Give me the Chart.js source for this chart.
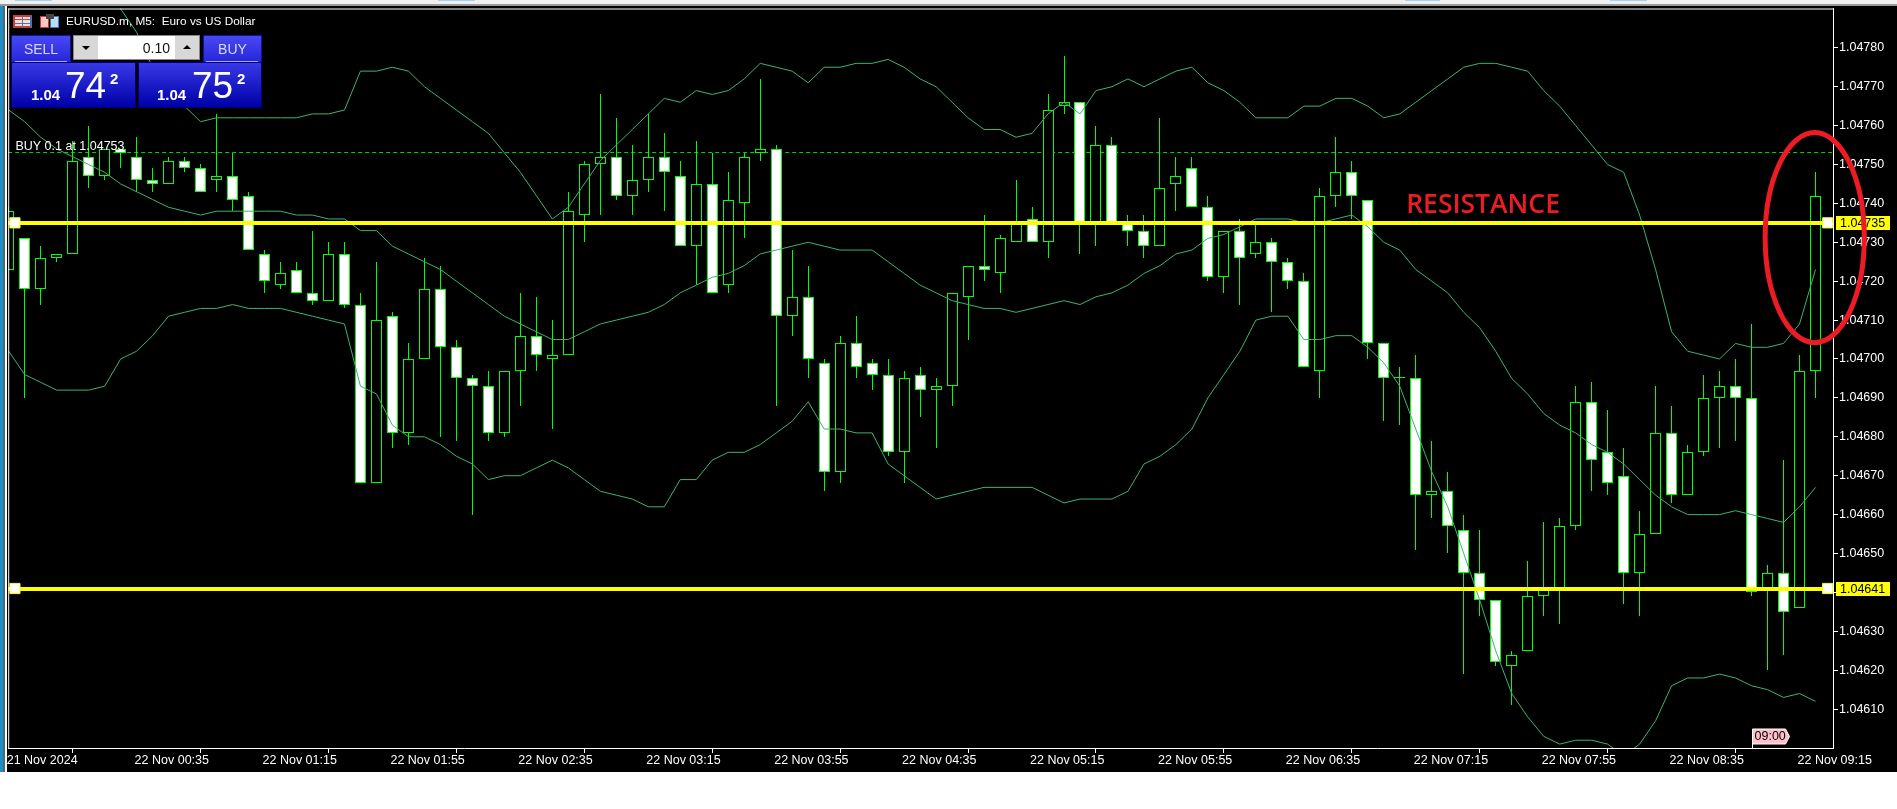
<!DOCTYPE html>
<html><head><meta charset="utf-8"><title>EURUSD.m M5</title>
<script src="https://cdn.jsdelivr.net/npm/chart.js@4"></script>
<style>
html,body{margin:0;padding:0;background:#fff;width:1897px;height:809px;overflow:hidden}
#c{position:absolute;left:0;top:0;display:block;background:#000}
.o{position:absolute;box-sizing:border-box}
.t{position:absolute;white-space:pre;font-family:"Liberation Sans",sans-serif;line-height:1}
.pb{background:linear-gradient(#4848f4,#2626d8);border:1px solid #1010a0}
.pp{background:linear-gradient(#3838e6,#0000a8);border:1px solid #00007a}
</style></head><body>
<canvas id="c" width="1897" height="772"></canvas>
<div class="o" style="left:0;top:0;width:1897px;height:4px;background:#f0f0f0"></div>
<div class="o" style="left:0;top:4px;width:1897px;height:2px;background:#9a9a9a"></div>
<div class="o" style="left:15px;top:0;width:37px;height:1px;background:#a5d0f0"></div>
<div class="o" style="left:438px;top:0;width:37px;height:1px;background:#a5d0f0"></div>
<div class="o" style="left:1405px;top:0;width:35px;height:1px;background:#a5d0f0"></div>
<div class="o" style="left:1610px;top:0;width:37px;height:1px;background:#a5d0f0"></div>
<div class="o" style="left:0;top:6px;width:3px;height:766px;background:#1b8fc9"></div>
<div class="o" style="left:3px;top:6px;width:2px;height:766px;background:#566"></div>
<div class="o" style="left:5px;top:6px;width:2px;height:766px;background:#fff"></div>

<div class="o" style="left:13px;top:15px;width:19px;height:13px;background:#ffd8d0;border:2px solid #c04040;border-right-color:#3080c0"></div>
<div class="o" style="left:15px;top:19px;width:15px;height:1px;background:#d04040"></div>
<div class="o" style="left:15px;top:23px;width:15px;height:1px;background:#3080c0"></div>
<div class="o" style="left:22px;top:17px;width:1px;height:10px;background:#3080c0"></div>
<div class="o" style="left:40px;top:16px;width:9px;height:12px;background:#ffc8c0;border:1px solid #c04040"></div>
<div class="o" style="left:50px;top:16px;width:9px;height:12px;background:#bcdcf4;border:1px solid #3080c0"></div>
<div class="o" style="left:46px;top:14px;width:8px;height:5px;background:#444"></div>
<div class="t" style="left:66px;top:16px;font-size:11.8px;color:#fff">EURUSD.m, M5:  Euro vs US Dollar</div>

<div class="o pb" style="left:11px;top:35px;width:60px;height:28px"></div>
<div class="o" style="left:15px;top:61px;width:52px;height:1px;background:#a8a8f0"></div>
<div class="t" style="left:11px;top:42px;width:60px;text-align:center;font-size:14px;color:#d8d8ff">SELL</div>
<div class="o" style="left:73px;top:35px;width:127px;height:25px;background:#fff;border:1px solid #888"></div>
<div class="o" style="left:74px;top:36px;width:24px;height:23px;background:#d8d8d8"></div>
<div class="o" style="left:175px;top:36px;width:24px;height:23px;background:#d8d8d8"></div>
<div class="o" style="left:82px;top:46px;width:0;height:0;border-left:4px solid transparent;border-right:4px solid transparent;border-top:4px solid #000"></div>
<div class="o" style="left:183px;top:45px;width:0;height:0;border-left:4px solid transparent;border-right:4px solid transparent;border-bottom:4px solid #000"></div>
<div class="t" style="left:98px;top:41px;width:72px;text-align:right;font-size:14px;color:#111">0.10</div>
<div class="o pb" style="left:203px;top:35px;width:59px;height:28px"></div>
<div class="o" style="left:206px;top:61px;width:52px;height:1px;background:#a8a8f0"></div>
<div class="t" style="left:203px;top:42px;width:59px;text-align:center;font-size:14px;color:#d8d8ff">BUY</div>
<div class="o pp" style="left:11px;top:62px;width:125px;height:46px"></div>
<div class="o pp" style="left:138px;top:62px;width:124px;height:46px"></div>
<div class="t" style="left:31px;top:87px;font-size:15px;font-weight:bold;color:#fff">1.04</div>
<div class="t" style="left:65px;top:67px;font-size:37px;color:#fff">74</div>
<div class="t" style="left:110px;top:71px;font-size:15px;font-weight:bold;color:#fff">2</div>
<div class="t" style="left:157px;top:87px;font-size:15px;font-weight:bold;color:#fff">1.04</div>
<div class="t" style="left:192px;top:67px;font-size:37px;color:#fff">75</div>
<div class="t" style="left:237px;top:71px;font-size:15px;font-weight:bold;color:#fff">2</div>

<script>
const opens=[1.04723,1.04731,1.04718,1.04726,1.04727,1.04752,1.04747,1.04754,1.04752,1.04746,1.04745,1.04751,1.04749,1.04746,1.04747,1.04742,1.04727,1.04719,1.04723,1.04717,1.04715,1.04727,1.04714,1.04668,1.04711,1.04681,1.04700,1.04718,1.04703,1.04695,
1.04693,1.04681,1.04697,1.04706,1.04700,1.04701,1.04737,1.04750,1.04752,1.04742,1.04746,1.04752,1.04747,1.04729,1.04745,1.04719,1.04740,1.04753,1.04754,1.04711,1.04716,1.04699,1.04671,1.04704,1.04699,1.04696,1.04676,1.04696,1.04692,1.04693,
1.04716,1.04724,1.04722,1.04730,1.04736,1.04730,1.04765,1.04766,1.04735,1.04755,1.04735,1.04733,1.04729,1.04745,1.04749,1.04739,1.04721,1.04733,1.04727,1.04730,1.04725,1.04720,1.04697,1.04742,1.04748,1.04741,1.04704,1.04695,1.04695,1.04665,
1.04666,1.04656,1.04645,1.04638,1.04621,1.04625,1.04639,1.04641,1.04657,1.04689,1.04676,1.04670,1.04645,1.04655,1.04681,1.04665,1.04676,1.04690,1.04693,1.04690,1.04641,1.04645,1.04636,1.04697];
const highs=[1.04739,1.04731,1.04729,1.04727,1.04756,1.04760,1.04754,1.04754,1.04757,1.04749,1.04752,1.04752,1.04750,1.04763,1.04753,1.04743,1.04728,1.04725,1.04725,1.04733,1.04730,1.04730,1.04717,1.04725,1.04712,1.04704,1.04726,1.04724,1.04705,1.04696,
1.04697,1.04697,1.04717,1.04716,1.04710,1.04743,1.04751,1.04768,1.04762,1.04755,1.04763,1.04758,1.04751,1.04756,1.04753,1.04748,1.04753,1.04772,1.04755,1.04728,1.04724,1.04700,1.04706,1.04711,1.04700,1.04700,1.04697,1.04698,1.04695,1.04717,
1.04724,1.04737,1.04732,1.04746,1.04739,1.04768,1.04778,1.04766,1.04760,1.04757,1.04737,1.04737,1.04762,1.04752,1.04752,1.04742,1.04733,1.04736,1.04735,1.04731,1.04726,1.04722,1.04744,1.04757,1.04751,1.04741,1.04704,1.04698,1.04701,1.04679,
1.04671,1.04660,1.04656,1.04638,1.04625,1.04648,1.04658,1.04659,1.04693,1.04694,1.04687,1.04677,1.04661,1.04693,1.04688,1.04678,1.04696,1.04697,1.04700,1.04709,1.04647,1.04674,1.04701,1.04748];
const lows=[1.04723,1.04690,1.04714,1.04725,1.04727,1.04744,1.04746,1.04749,1.04743,1.04743,1.04745,1.04748,1.04743,1.04743,1.04738,1.04728,1.04717,1.04718,1.04717,1.04714,1.04715,1.04713,1.04668,1.04668,1.04677,1.04678,1.04700,1.04680,1.04679,1.04660,
1.04679,1.04680,1.04688,1.04697,1.04682,1.04701,1.04730,1.04737,1.04741,1.04737,1.04743,1.04738,1.04729,1.04719,1.04717,1.04717,1.04731,1.04751,1.04688,1.04706,1.04695,1.04666,1.04668,1.04695,1.04692,1.04675,1.04668,1.04685,1.04677,1.04688,
1.04705,1.04720,1.04717,1.04730,1.04730,1.04726,1.04763,1.04727,1.04729,1.04735,1.04729,1.04726,1.04729,1.04738,1.04739,1.04720,1.04717,1.04714,1.04726,1.04712,1.04718,1.04698,1.04690,1.04739,1.04736,1.04700,1.04684,1.04683,1.04651,1.04659,
1.04650,1.04619,1.04634,1.04621,1.04611,1.04625,1.04634,1.04632,1.04656,1.04666,1.04665,1.04637,1.04634,1.04655,1.04663,1.04665,1.04675,1.04677,1.04679,1.04639,1.04620,1.04624,1.04636,1.04690];
const closes=[1.04738,1.04718,1.04726,1.04727,1.04751,1.04747,1.04754,1.04753,1.04746,1.04745,1.04751,1.04749,1.04743,1.04747,1.04741,1.04728,1.04720,1.04722,1.04717,1.04715,1.04727,1.04714,1.04668,1.04710,1.04681,1.04700,1.04718,1.04703,1.04695,1.04693,
1.04681,1.04697,1.04706,1.04701,1.04701,1.04738,1.04750,1.04752,1.04742,1.04746,1.04752,1.04748,1.04729,1.04745,1.04717,1.04741,1.04752,1.04754,1.04711,1.04716,1.04700,1.04671,1.04704,1.04698,1.04696,1.04676,1.04695,1.04692,1.04693,1.04717,
1.04724,1.04723,1.04731,1.04735,1.04730,1.04764,1.04766,1.04735,1.04755,1.04735,1.04733,1.04729,1.04744,1.04747,1.04739,1.04721,1.04733,1.04726,1.04730,1.04725,1.04720,1.04698,1.04742,1.04748,1.04742,1.04704,1.04695,1.04695,1.04665,1.04666,
1.04657,1.04645,1.04638,1.04622,1.04624,1.04639,1.04641,1.04657,1.04689,1.04674,1.04668,1.04645,1.04655,1.04681,1.04665,1.04676,1.04690,1.04693,1.04690,1.04640,1.04645,1.04635,1.04697,1.04742];
const bandUpper=[1.04826,1.04825,1.04820,1.04816,1.04813,1.04809,1.04803,1.04790,1.04784,1.04775,1.04767,1.04765,1.04761,1.04762,1.04762,1.04762,1.04762,1.04762,1.04762,1.04763,1.04763,1.04764,1.04774,1.04774,1.04775,1.04774,1.04770,1.04767,1.04764,1.04761,
1.04758,1.04753,1.04748,1.04742,1.04736,1.04739,1.04745,1.04751,1.04755,1.04759,1.04763,1.04767,1.04766,1.04769,1.04768,1.04769,1.04772,1.04776,1.04775,1.04774,1.04771,1.04775,1.04775,1.04776,1.04776,1.04777,1.04775,1.04772,1.04770,1.04766,
1.04762,1.04759,1.04759,1.04757,1.04758,1.04763,1.04766,1.04763,1.04769,1.04770,1.04772,1.04770,1.04772,1.04774,1.04775,1.04771,1.04769,1.04766,1.04762,1.04762,1.04762,1.04765,1.04765,1.04767,1.04767,1.04765,1.04762,1.04763,1.04766,1.04769,
1.04772,1.04775,1.04776,1.04776,1.04775,1.04774,1.04769,1.04765,1.04760,1.04755,1.04750,1.04748,1.04737,1.04723,1.04707,1.04702,1.04701,1.04700,1.04704,1.04703,1.04703,1.04704,1.04709,1.04723];
const bandMiddle=[1.04764,1.04761,1.04757,1.04754,1.04752,1.04750,1.04748,1.04745,1.04743,1.04741,1.04739,1.04738,1.04737,1.04738,1.04738,1.04738,1.04738,1.04738,1.04737,1.04737,1.04736,1.04736,1.04733,1.04733,1.04729,1.04727,1.04725,1.04723,1.04720,1.04717,
1.04714,1.04711,1.04709,1.04707,1.04705,1.04705,1.04707,1.04709,1.04710,1.04711,1.04712,1.04714,1.04717,1.04719,1.04721,1.04722,1.04724,1.04727,1.04728,1.04729,1.04730,1.04729,1.04728,1.04728,1.04728,1.04725,1.04722,1.04719,1.04717,1.04715,
1.04714,1.04713,1.04713,1.04712,1.04713,1.04714,1.04715,1.04714,1.04716,1.04717,1.04719,1.04722,1.04724,1.04727,1.04728,1.04731,1.04732,1.04734,1.04736,1.04736,1.04736,1.04735,1.04735,1.04736,1.04737,1.04734,1.04730,1.04728,1.04723,1.04720,
1.04717,1.04712,1.04708,1.04702,1.04695,1.04691,1.04686,1.04683,1.04681,1.04678,1.04676,1.04673,1.04669,1.04665,1.04662,1.04660,1.04660,1.04660,1.04661,1.04660,1.04659,1.04658,1.04662,1.04667];
const bandLower=[1.04702,1.04696,1.04694,1.04692,1.04692,1.04692,1.04693,1.04700,1.04702,1.04706,1.04711,1.04712,1.04713,1.04713,1.04714,1.04713,1.04713,1.04713,1.04712,1.04711,1.04710,1.04709,1.04693,1.04691,1.04683,1.04680,1.04680,1.04678,1.04675,1.04673,
1.04669,1.04670,1.04670,1.04672,1.04674,1.04672,1.04669,1.04666,1.04665,1.04664,1.04662,1.04662,1.04669,1.04669,1.04674,1.04676,1.04676,1.04678,1.04681,1.04684,1.04689,1.04682,1.04682,1.04681,1.04681,1.04673,1.04670,1.04667,1.04664,1.04665,
1.04666,1.04667,1.04667,1.04667,1.04667,1.04665,1.04663,1.04664,1.04664,1.04664,1.04666,1.04673,1.04675,1.04678,1.04682,1.04690,1.04696,1.04702,1.04710,1.04711,1.04711,1.04705,1.04705,1.04706,1.04706,1.04703,1.04699,1.04693,1.04682,1.04671,
1.04662,1.04650,1.04638,1.04625,1.04614,1.04608,1.04603,1.04601,1.04602,1.04602,1.04601,1.04598,1.04601,1.04607,1.04616,1.04618,1.04618,1.04619,1.04618,1.04616,1.04615,1.04613,1.04614,1.04612];
const tickBars=[0,8,16,24,32,40,48,56,64,72,80,88,96,104,112];
const tickLabels=["21 Nov 2024","22 Nov 00:35","22 Nov 01:15","22 Nov 01:55","22 Nov 02:35","22 Nov 03:15","22 Nov 03:55","22 Nov 04:35","22 Nov 05:15","22 Nov 05:55","22 Nov 06:35","22 Nov 07:15","22 Nov 07:55","22 Nov 08:35","22 Nov 09:15"];
const priceTicks=[1.0461,1.0462,1.0463,1.0464,1.0465,1.0466,1.0467,1.0468,1.0469,1.0470,1.0471,1.0472,1.0473,1.0474,1.0475,1.0476,1.0477,1.0478];
const levels=[1.04735,1.04641];
const buyPrice=1.04753;
const buyLabel="BUY 0.1 at 1.04753";
const noteText="RESISTANCE";
const noteBar=87.4, notePrice=1.047395;
const timeTagBar=109, timeTagText="09:00";
const ringBar=112.95, ringPrice=1.047312, ringBars=3.1, ringSpan=0.00027;
const xMin=-0.03125, xMax=114.09375, yMin=1.046, yMax=1.047901;
const handleBars=[0.39,113.76];

const GREEN='#00ff00', BAND='#3cb371', YELLOW='#ffff00', RED='#ed1c24';
const FONT='"Liberation Sans", sans-serif';
const bars=opens.map((_,i)=>i);
const bodyFill=bars.map(i=>closes[i]>opens[i]?'#000000':closes[i]<opens[i]?'#ffffff':GREEN);
const lineDs=(arr,order)=>({type:'line',data:bars.map(i=>({x:i,y:arr[i]})),borderColor:BAND,borderWidth:1,pointRadius:0,tension:0,order});

const snap={id:'snap',beforeDatasetsDraw(ch){
  ch.getSortedVisibleDatasetMetas().forEach(m=>{
    if(m.type==='bar'){m.data.forEach(e=>{e.x=Math.floor(e.x)+.5;e.y=Math.round(e.y);e.base=Math.round(e.base);});}
    const s=ch.data.datasets[m.index].snapTo;
    if(s==='even')m.data.forEach(e=>{e.y=Math.round(e.y);if(e.cp1y!==undefined){e.cp1y=e.y;e.cp2y=e.y;}});
    if(s==='odd')m.data.forEach(e=>{e.y=Math.floor(e.y)+.5;if(e.cp1y!==undefined){e.cp1y=e.y;e.cp2y=e.y;}});
  });
}};
const decor={id:'decor',afterDraw(ch){
  const {ctx,chartArea:a,scales:{x,y}}=ch;
  ctx.save();
  ctx.fillStyle='#fff';
  ctx.fillRect(a.left,a.top,a.right-a.left+1,1);
  ctx.fillRect(a.left,a.top,1,a.bottom-a.top);
  ctx.font='12.5px '+FONT;ctx.textBaseline='alphabetic';ctx.textAlign='left';
  ctx.fillStyle='#fff';
  ctx.fillText(buyLabel,x.getPixelForValue(0.42),Math.round(y.getPixelForValue(buyPrice))-3);
  levels.forEach(v=>{
    const py=Math.round(y.getPixelForValue(v));
    ctx.fillStyle=YELLOW;ctx.fillRect(a.right+3,py-7,54,14);
    ctx.fillStyle='#000';ctx.font='12.5px '+FONT;ctx.textBaseline='middle';
    ctx.fillText(v.toFixed(5),a.right+7,py+1);
  });
  const tx=Math.round(x.getPixelForValue(timeTagBar))+.5, b=a.bottom;
  ctx.beginPath();ctx.moveTo(tx,b);ctx.lineTo(tx,b-19);ctx.lineTo(tx+33,b-19);ctx.lineTo(tx+37,b-11.5);ctx.lineTo(tx+33,b-4);ctx.lineTo(tx,b-4);
  ctx.fillStyle='#ffc0cb';ctx.fill();ctx.strokeStyle='#fff';ctx.lineWidth=1;ctx.stroke();
  ctx.fillStyle='#000';ctx.font='12.5px '+FONT;ctx.textBaseline='middle';
  ctx.fillText(timeTagText,tx+2,b-11);
  ctx.fillStyle=RED;ctx.font='600 26.5px "Open Sans", sans-serif';ctx.textBaseline='middle';
  ctx.fillText(noteText,x.getPixelForValue(noteBar),y.getPixelForValue(notePrice));
  const cx=x.getPixelForValue(ringBar), cy=y.getPixelForValue(ringPrice);
  const rx=x.getPixelForValue(ringBar+ringBars)-cx, ry=y.getPixelForValue(ringPrice-ringSpan)-cy;
  ctx.beginPath();ctx.ellipse(cx,cy,rx,ry,0,0,Math.PI*2);ctx.strokeStyle=RED;ctx.lineWidth=5;ctx.stroke();
  ctx.restore();
}};
new Chart(document.getElementById('c'),{
  data:{datasets:[
    {type:'bar',label:'wicks',data:bars.map(i=>({x:i,y:[lows[i],highs[i]]})),barThickness:1,backgroundColor:GREEN,borderWidth:0,inflateAmount:0,minBarLength:1,grouped:false,order:6},
    {type:'bar',label:'bodies',data:bars.map(i=>({x:i,y:[opens[i],closes[i]]})),barThickness:11,backgroundColor:bodyFill,borderColor:GREEN,borderWidth:1,borderSkipped:false,inflateAmount:0,minBarLength:1,grouped:false,order:5},
    lineDs(bandUpper,4),lineDs(bandMiddle,3),lineDs(bandLower,2),
    {type:'line',data:[{x:xMin,y:buyPrice},{x:xMax,y:buyPrice}],borderColor:'#00d000',borderWidth:1,borderDash:[4,3],pointRadius:0,snapTo:'odd',order:7},
    ...levels.map(v=>({type:'line',data:[{x:xMin,y:v},{x:xMax,y:v}],borderColor:YELLOW,borderWidth:4,pointRadius:0,snapTo:'even',order:1})),
    ...levels.map(v=>({type:'line',data:handleBars.map(b=>({x:b,y:v})),showLine:false,pointStyle:'rect',pointRadius:7.2,pointBackgroundColor:'#fff',pointBorderColor:YELLOW,pointBorderWidth:1,order:0}))
  ]},
  options:{
    responsive:false,devicePixelRatio:1,animation:false,
    layout:{padding:{left:7,top:8,right:0,bottom:0}},
    plugins:{legend:{display:false},tooltip:{enabled:false}},
    events:[],
    scales:{
      x:{type:'linear',min:xMin,max:xMax,offset:false,
        afterBuildTicks:s=>{s.ticks=tickBars.map(v=>({value:v}));},
        afterFit:s=>{s.height=772-748;},
        grid:{drawOnChartArea:false,tickLength:5,tickColor:'#fff'},
        border:{color:'#fff'},
        ticks:{autoSkip:false,maxRotation:0,align:'start',padding:0,labelOffset:-2,color:'#fff',font:{family:FONT,size:12.5},callback:(v,i)=>tickLabels[i]}},
      y:{type:'linear',position:'right',min:yMin,max:yMax,
        afterBuildTicks:s=>{s.ticks=priceTicks.map(v=>({value:v}));},
        afterFit:s=>{s.width=1897-1833;},
        grid:{drawOnChartArea:false,tickLength:5,tickColor:'#fff'},
        border:{color:'#fff'},
        ticks:{padding:1,color:'#fff',font:{family:FONT,size:12.5},callback:v=>v.toFixed(5)}}
    }
  },
  plugins:[snap,decor]
});
</script>
</body></html>
